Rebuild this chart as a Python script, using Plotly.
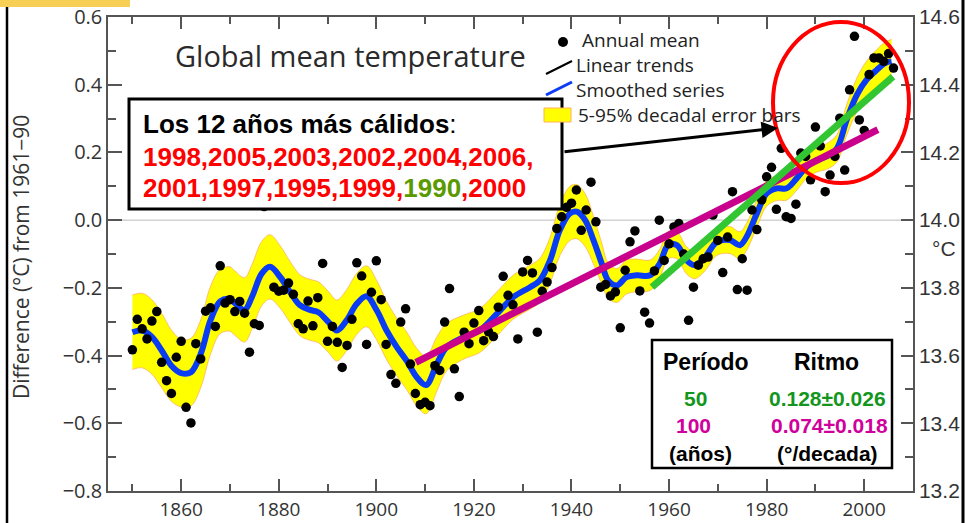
import plotly.graph_objects as go

# ---------------- data ----------------
years = list(range(1850, 2007))
annual_mean = [
    -0.383, -0.293, -0.321, -0.351, -0.298, -0.270, -0.420, -0.474, -0.512, -0.405,  # 1850s
    -0.358, -0.553, -0.599, -0.365, -0.410, -0.269, -0.259, -0.314, -0.135, -0.245,  # 1860s
    -0.235, -0.270, -0.240, -0.275, -0.390, -0.306, -0.311, 0.040, 0.050, -0.198,    # 1870s
    -0.210, -0.207, -0.186, -0.219, -0.306, -0.321, -0.239, -0.312, -0.229, -0.128,  # 1880s
    -0.358, -0.314, -0.361, -0.435, -0.370, -0.293, -0.126, -0.165, -0.367, -0.213,  # 1890s
    -0.120, -0.235, -0.367, -0.456, -0.482, -0.301, -0.262, -0.425, -0.512, -0.545,  # 1900s
    -0.538, -0.548, -0.430, -0.444, -0.301, -0.202, -0.439, -0.521, -0.331, -0.365,  # 1910s
    -0.304, -0.267, -0.356, -0.330, -0.344, -0.257, -0.166, -0.222, -0.250, -0.351,  # 1920s
    -0.153, -0.119, -0.156, -0.331, -0.210, -0.183, -0.140, -0.025, 0.010, 0.038,    # 1930s
    0.050, 0.089, -0.030, 0.030, 0.112, -0.005, -0.198, -0.190, -0.224, -0.212,      # 1940s
    -0.318, -0.148, -0.064, -0.032, -0.209, -0.272, -0.304, -0.150, 0.000, -0.119,   # 1950s
    -0.070, -0.020, -0.010, -0.100, -0.296, -0.198, -0.133, -0.114, -0.109, 0.015,   # 1960s
    -0.060, -0.155, -0.050, 0.084, -0.205, -0.114, -0.207, 0.030, -0.028, 0.060,     # 1970s
    0.128, 0.156, 0.032, 0.212, 0.010, 0.005, 0.047, 0.198, 0.188, 0.119,            # 1980s
    0.275, 0.219, 0.084, 0.133, 0.188, 0.301, 0.148, 0.385, 0.543, 0.296,            # 1990s
    0.265, 0.430, 0.479, 0.479, 0.469, 0.492, 0.449,                                 # 2000s
]

smooth_years = [
    1850, 1852, 1854, 1856, 1858, 1860, 1862, 1864, 1866, 1868, 1870, 1871, 1873, 1874.5,
    1876.5, 1878.2, 1880.3, 1882.3, 1884.4, 1886.4, 1888.1, 1890.2, 1891.9, 1893.9, 1896,
    1898, 1900.1, 1902.1, 1904.2, 1906.2, 1908.3, 1910.2, 1912.4, 1914.4, 1917.8, 1921.2,
    1924.7, 1928.1, 1931.5, 1933.5, 1935.6, 1937.6, 1939.7, 1941.1, 1942.8, 1944.5, 1946.2,
    1947.5, 1949.3, 1951.3, 1953.4, 1956.1, 1958.1, 1959.8, 1961.6, 1963.6, 1965.3, 1967.4,
    1969.8, 1972.5, 1974.5, 1975.9, 1978, 1980, 1982.1, 1984.1, 1986.2, 1988.2, 1990.3,
    1992.3, 1994.4, 1996.4, 1998.5, 2000.5, 2002.6, 2004.3, 2005.6,
]
smooth_values = [
    -0.331, -0.326, -0.345, -0.385, -0.430, -0.452, -0.449, -0.395, -0.296, -0.240, -0.233,
    -0.245, -0.265, -0.227, -0.158, -0.138, -0.168, -0.212, -0.252, -0.265, -0.272, -0.301,
    -0.326, -0.296, -0.247, -0.225, -0.267, -0.326, -0.375, -0.415, -0.464, -0.487, -0.425,
    -0.375, -0.346, -0.326, -0.277, -0.227, -0.198, -0.178, -0.119, -0.030, 0.020, 0.025,
    0.000, -0.059, -0.128, -0.178, -0.193, -0.168, -0.163, -0.163, -0.128, -0.074, -0.074,
    -0.119, -0.133, -0.109, -0.064, -0.059, -0.074, -0.049, 0.020, 0.079, 0.094, 0.094,
    0.124, 0.158, 0.178, 0.188, 0.212, 0.296, 0.370, 0.415, 0.444, 0.464, 0.469,
]
error_half = [
    0.110, 0.110, 0.110, 0.110, 0.105, 0.100, 0.100, 0.100, 0.100, 0.095, 0.095,
    0.095, 0.095, 0.095, 0.095, 0.095, 0.092, 0.090, 0.090, 0.090, 0.090, 0.090,
    0.090, 0.090, 0.090, 0.090, 0.088, 0.086, 0.085, 0.085, 0.085, 0.085, 0.080,
    0.070, 0.065, 0.065, 0.065, 0.065, 0.065, 0.065, 0.068, 0.075, 0.080, 0.080,
    0.078, 0.070, 0.060, 0.052, 0.050, 0.050, 0.048, 0.045, 0.042, 0.040, 0.040,
    0.040, 0.040, 0.040, 0.040, 0.040, 0.040, 0.040, 0.040, 0.038, 0.036, 0.035,
    0.035, 0.035, 0.036, 0.038, 0.040, 0.045, 0.050, 0.055, 0.060, 0.062, 0.065,
]

trend100_years = [1908.1, 2002.8]
trend100_values = [-0.420, 0.267]
trend50_years = [1956.5, 2005.9]
trend50_values = [-0.198, 0.424]

warmest_years = ["1998", "2005", "2003", "2002", "2004", "2006",
                 "2001", "1997", "1995", "1999", "1990", "2000"]
periods = ["50", "100"]
rates = ["0.128±0.026", "0.074±0.018"]

x_range = [1845, 2010]
y_range = [-0.8, 0.6]
abs_offset = 14.0

# ---------------- geometry helpers (layout only) ----------------
W, H = 968, 523
L, R, T, B = 108, 913, 17, 491


def px(xp):
    return (xp - L) / (R - L)


def py(yp):
    return (B - yp) / (B - T)


BLUE = "#0A3CF5"
MAGENTA = "#C8008C"
GREEN = "#33C633"
RED = "#FF0000"
TXT_GREEN = "#14961E"
TXT_MAG = "#D0009C"
OLIVE = "#5A9A00"

fig = go.Figure()

lower = [v - e for v, e in zip(smooth_values, error_half)]
upper = [v + e for v, e in zip(smooth_values, error_half)]
fig.add_trace(go.Scatter(x=smooth_years, y=lower, mode="lines",
                         line=dict(color="#FFB060", width=0.8, shape="spline"),
                         hoverinfo="skip"))
fig.add_trace(go.Scatter(x=smooth_years, y=upper, mode="lines", fill="tonexty",
                         fillcolor="#FFFF00",
                         line=dict(color="#FFB060", width=0.8, shape="spline"),
                         hoverinfo="skip"))
fig.add_trace(go.Scatter(x=smooth_years, y=smooth_values, mode="lines",
                         line=dict(color=BLUE, width=6, shape="spline")))
fig.add_trace(go.Scatter(x=years, y=annual_mean, mode="markers",
                         marker=dict(color="black", size=9.5)))
fig.add_trace(go.Scatter(x=trend100_years, y=trend100_values, mode="lines",
                         line=dict(color=MAGENTA, width=7)))
fig.add_trace(go.Scatter(x=trend50_years, y=trend50_values, mode="lines",
                         line=dict(color=GREEN, width=7)))
# right-hand absolute axis (°C)
fig.add_trace(go.Scatter(x=[x_range[0]], y=[y_range[0] + abs_offset], yaxis="y2",
                         mode="markers", marker=dict(opacity=0), hoverinfo="skip"))

AX = "#555"
fig.update_layout(
    width=W, height=H,
    margin=dict(l=L, r=W - R, t=T, b=H - B, autoexpand=False),
    paper_bgcolor="white", plot_bgcolor="white",
    showlegend=False,
    xaxis=dict(range=x_range, showgrid=False, zeroline=False, automargin=False,
               showline=True, linecolor=AX, linewidth=1.5, mirror="ticks",
               ticks="inside", ticklen=12, tickwidth=1.5, tickcolor=AX,
               tick0=1860, dtick=20,
               tickfont=dict(family="Open Sans, sans-serif", size=19, color="#333"),
               minor=dict(ticks="inside", ticklen=7, tickwidth=1.5, tickcolor=AX, dtick=10)),
    yaxis=dict(range=y_range, showgrid=False, zeroline=False, automargin=False,
               showline=True, linecolor=AX, linewidth=1.5,
               ticks="inside", ticklen=14, tickwidth=1.5, tickcolor=AX,
               tick0=-0.8, dtick=0.2, tickformat=".1f",
               tickfont=dict(family="Open Sans, sans-serif", size=20, color="#333"),
               minor=dict(ticks="inside", ticklen=8, tickwidth=1.5, tickcolor=AX, dtick=0.1)),
    yaxis2=dict(range=[y_range[0] + abs_offset, y_range[1] + abs_offset], overlaying="y", side="right",
                showgrid=False, zeroline=False, showline=True, linecolor=AX, linewidth=1.5,
                automargin=False,
                ticks="inside", ticklen=12, tickwidth=1.5, tickcolor=AX,
                tick0=13.2, dtick=0.2, tickformat=".1f",
                tickfont=dict(family="Liberation Sans, Arial, sans-serif", size=21, color="#333"),
                minor=dict(ticks="inside", ticklen=8, tickwidth=1.5, tickcolor=AX, dtick=0.1)),
)

shapes = []
# zero reference line
shapes.append(dict(type="line", xref="x", yref="y", x0=x_range[0], x1=x_range[1], y0=0, y1=0,
                   line=dict(color="#BBBBBB", width=1), layer="below"))
# frame of the slide
shapes.append(dict(type="rect", xref="paper", yref="paper", x0=px(-2), x1=px(130), y0=py(-2), y1=py(7),
                   fillcolor="#F8CF55", line=dict(width=0), layer="above"))
shapes.append(dict(type="line", xref="paper", yref="paper", x0=px(7), x1=px(7), y0=py(7), y1=py(525),
                   line=dict(color="black", width=2.5), layer="above"))
shapes.append(dict(type="line", xref="paper", yref="paper", x0=px(963), x1=px(963), y0=py(-2), y1=py(525),
                   line=dict(color="black", width=3), layer="above"))
# text box
shapes.append(dict(type="rect", xref="paper", yref="paper", x0=px(129), x1=px(562), y0=py(99), y1=py(209),
                   fillcolor="white", line=dict(color="black", width=3), layer="above"))
# table box
shapes.append(dict(type="rect", xref="paper", yref="paper", x0=px(652), x1=px(892), y0=py(340), y1=py(468),
                   fillcolor="white", line=dict(color="black", width=2.5), layer="above"))
# legend icons
shapes.append(dict(type="line", xref="paper", yref="paper", x0=px(546), x1=px(572), y0=py(74), y1=py(61),
                   line=dict(color="black", width=2), layer="above"))
shapes.append(dict(type="line", xref="paper", yref="paper", x0=px(546), x1=px(572), y0=py(95), y1=py(82),
                   line=dict(color=BLUE, width=3), layer="above"))
shapes.append(dict(type="rect", xref="paper", yref="paper", x0=px(544), x1=px(571), y0=py(108), y1=py(122),
                   fillcolor="#FFFF00", line=dict(color="#FFB060", width=1), layer="above"))
shapes.append(dict(type="circle", xref="paper", yref="paper", x0=px(558), x1=px(568), y0=py(37), y1=py(47),
                   fillcolor="black", line=dict(width=0), layer="above"))
# red ellipse
shapes.append(dict(type="circle", xref="paper", yref="paper", x0=px(773), x1=px(909), y0=py(22), y1=py(183),
                   line=dict(color=RED, width=4), layer="above"))
fig.update_layout(shapes=shapes)

ann = []


def text(xp, yp, s, size, color="#222", family="Open Sans, sans-serif", xanchor="left", angle=0):
    ann.append(dict(xref="paper", yref="paper", x=px(xp), y=py(yp), text=s, showarrow=False,
                    xanchor=xanchor, yanchor="middle", textangle=angle,
                    font=dict(size=size, color=color, family=family)))


text(350, 55, "Global mean temperature", 29, "#2a2a2a", xanchor="center")
text(580, 40, "Annual mean", 19)
text(574, 65, "Linear trends", 19)
text(574, 90, "Smoothed series", 19)
text(576, 115, "5-95% decadal error bars", 19)

ARIAL = "Liberation Sans, Arial, sans-serif"
line2 = ",".join(warmest_years[:6]) + ","
parts3 = []
for y_ in warmest_years[6:]:
    if y_ == "1990":
        parts3.append("<span style='color:%s'>%s</span>" % (OLIVE, y_))
    else:
        parts3.append(y_)
line3 = ",".join(parts3)
text(141, 124, "<b>Los 12 años más cálidos</b>:", 26, "black", ARIAL)
text(141, 157, "<b>" + line2 + "</b>", 26, RED, ARIAL)
text(141, 188, "<b>" + line3 + "</b>", 26, RED, ARIAL)

text(706, 362, "<b>Período</b>", 23, "black", ARIAL, "center")
text(826, 362, "<b>Ritmo</b>", 23, "black", ARIAL, "center")
text(695, 398, "<b>%s</b>" % periods[0], 21, TXT_GREEN, ARIAL, "center")
text(827, 398, "<b>%s</b>" % rates[0], 21, TXT_GREEN, ARIAL, "center")
text(693, 425, "<b>%s</b>" % periods[1], 21, TXT_MAG, ARIAL, "center")
text(829, 425, "<b>%s</b>" % rates[1], 21, TXT_MAG, ARIAL, "center")
text(700, 453, "<b>(años)</b>", 21, "black", ARIAL, "center")
text(827, 453, "<b>(°/decada)</b>", 21, "black", ARIAL, "center")

text(21, 257, "Difference (°C) from 1961−90", 21, "#333", angle=-90, xanchor="center")
text(944, 248, "°C", 21, "#333", ARIAL, "center")

# arrow from the text box to the circled recent years
ann.append(dict(xref="paper", yref="paper", x=px(778), y=py(128), ax=-215, ay=24,
                text="", showarrow=True, arrowhead=2, arrowsize=1.1, arrowwidth=3,
                arrowcolor="black", standoff=0, startstandoff=0))

fig.update_layout(annotations=ann)

fig.write_html("out.html")
